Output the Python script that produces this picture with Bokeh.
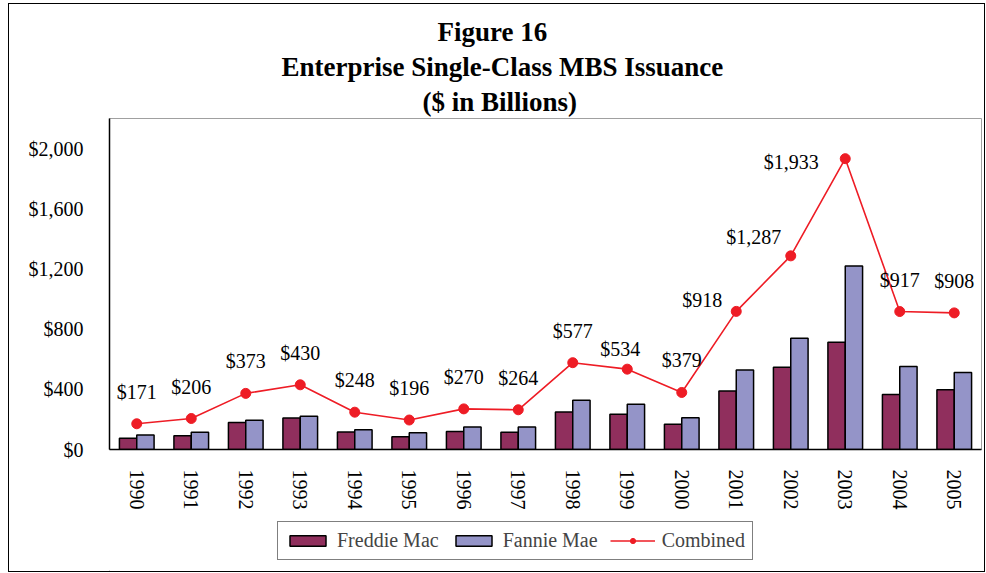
import math
from bokeh.plotting import figure
from bokeh.layouts import column
from bokeh.models import (ColumnDataSource, FactorRange, Range1d, FixedTicker,
                          NumeralTickFormatter, Legend, LegendItem, Title)
from bokeh.transform import dodge
from bokeh.core.properties import value
from bokeh.embed import file_html
from bokeh.resources import INLINE

# ---- data ----
years = ["1990", "1991", "1992", "1993", "1994", "1995", "1996", "1997",
         "1998", "1999", "2000", "2001", "2002", "2003", "2004", "2005"]
freddie = [74, 92, 179, 209, 117, 85, 120, 115, 250, 234, 168, 389, 547, 713, 365, 397]
fannie = [97, 114, 194, 221, 131, 111, 150, 149, 327, 300, 211, 529, 740, 1220, 552, 511]
combined = [171, 206, 373, 430, 248, 196, 270, 264, 577, 534, 379, 918, 1287, 1933, 917, 908]
y_ticks = [0, 400, 800, 1200, 1600, 2000]

# ---- label placement (style, screen px) ----
label_dx = [0, 0, 0, 0, 0, 0, 0, 0, 0, -7, 0, -34, -37, -54, 0, 0]
label_dy = [-32, -32, -32, -32, -32, -32, -32, -32, -32, -20, -32, -11, -19, 3, -32, -32]

FONT = "Liberation Serif"
C_FRED = "#902F5D"
C_FANN = "#9494C8"
C_COMB = "#EE1C25"

src = ColumnDataSource(dict(
    year=years, freddie=freddie, fannie=fannie, combined=combined,
    label=["${:,}".format(v) for v in combined], dx=label_dx, dy=label_dy))

p = figure(x_range=FactorRange(factors=years), y_range=Range1d(0, 2200),
           frame_width=872, frame_height=331, output_backend="svg", toolbar_location=None,
           title=None, min_border_left=100, min_border_right=3,
           min_border_top=0, min_border_bottom=70)

r1 = p.vbar(x=dodge("year", -0.159, range=p.x_range), top="freddie", width=0.318,
            source=src, fill_color=C_FRED, line_color="black", line_width=1.5)
r2 = p.vbar(x=dodge("year", 0.159, range=p.x_range), top="fannie", width=0.318,
            source=src, fill_color=C_FANN, line_color="black", line_width=1.5)
rl = p.line(x="year", y="combined", source=src, line_color=C_COMB, line_width=1.6)
rs = p.scatter(x="year", y="combined", source=src, size=10, fill_color=C_COMB,
               line_color=C_COMB)
p.text(x="year", y="combined", text="label", x_offset="dx", y_offset="dy", source=src,
       text_align="center", text_baseline="middle", text_font=value(FONT),
       text_font_size="20px", text_color="black")

p.xgrid.visible = False
p.ygrid.visible = False
p.outline_line_color = "#a0a0a0"
p.outline_line_width = 1

p.yaxis.ticker = FixedTicker(ticks=y_ticks)
p.yaxis.formatter = NumeralTickFormatter(format="$0,0")
for ax in (p.xaxis, p.yaxis):
    ax.major_label_text_font = FONT
    ax.major_label_text_font_size = "20px"
    ax.major_label_text_color = "black"
    ax.major_tick_out = 0
    ax.major_tick_in = 0
    ax.minor_tick_out = 0
    ax.minor_tick_in = 0
    ax.axis_line_color = "black"
    ax.axis_line_width = 1.5
p.yaxis.major_label_standoff = 26
p.xaxis.major_label_standoff = 20
p.xaxis.major_label_orientation = -math.pi / 2

titles = ["($ in Billions)", "Enterprise Single-Class MBS Issuance", "Figure 16"]
title_offsets = [313, 172, 328]
for t, off in zip(titles, title_offsets):
    p.add_layout(Title(text=t, align="left", text_font=FONT, text_font_size="27px",
                       text_font_style="bold", text_color="black", offset=off,
                       standoff=3), "above")
p.add_layout(Title(text=" ", text_font_size="7px", standoff=0), "above")

# ---- legend strip (separate small figure below the chart) ----
pl = figure(width=975, height=52, output_backend="svg", toolbar_location=None,
            title=None, x_range=Range1d(0, 1), y_range=Range1d(0, 1),
            x_axis_location=None, y_axis_location=None, min_border=0)
pl.xgrid.visible = False
pl.ygrid.visible = False
pl.outline_line_color = None
# one off-screen placeholder so the legend swatches have something to draw from
swatch = ColumnDataSource(dict(x=[-10], y=[-10]))
l1 = pl.vbar(x="x", top="y", width=0.1, source=swatch, fill_color=C_FRED,
             line_color="black", line_width=1.5)
l2 = pl.vbar(x="x", top="y", width=0.1, source=swatch, fill_color=C_FANN,
             line_color="black", line_width=1.5)
l3 = pl.line(x="x", y="y", source=swatch, line_color=C_COMB, line_width=1.6)
l4 = pl.scatter(x="x", y="y", source=swatch, size=10, fill_color=C_COMB, line_color=C_COMB)

legend = Legend(items=[
    LegendItem(label="Freddie Mac", renderers=[l1]),
    LegendItem(label="Fannie Mae", renderers=[l2]),
    LegendItem(label="Combined", renderers=[l3, l4])],
    orientation="horizontal", location=(168, 11),
    border_line_color="black", border_line_width=1,
    glyph_width=45, glyph_height=13, label_text_font=FONT,
    label_text_font_size="20px", label_standoff=7, spacing=12,
    padding=7, margin=0)
pl.add_layout(legend, "center")

layout = column(p, pl, spacing=0, margin=(3, 0, 0, 8),
                styles={"border": "1px solid black"})

open("out.html", "w").write(file_html(layout, INLINE))
